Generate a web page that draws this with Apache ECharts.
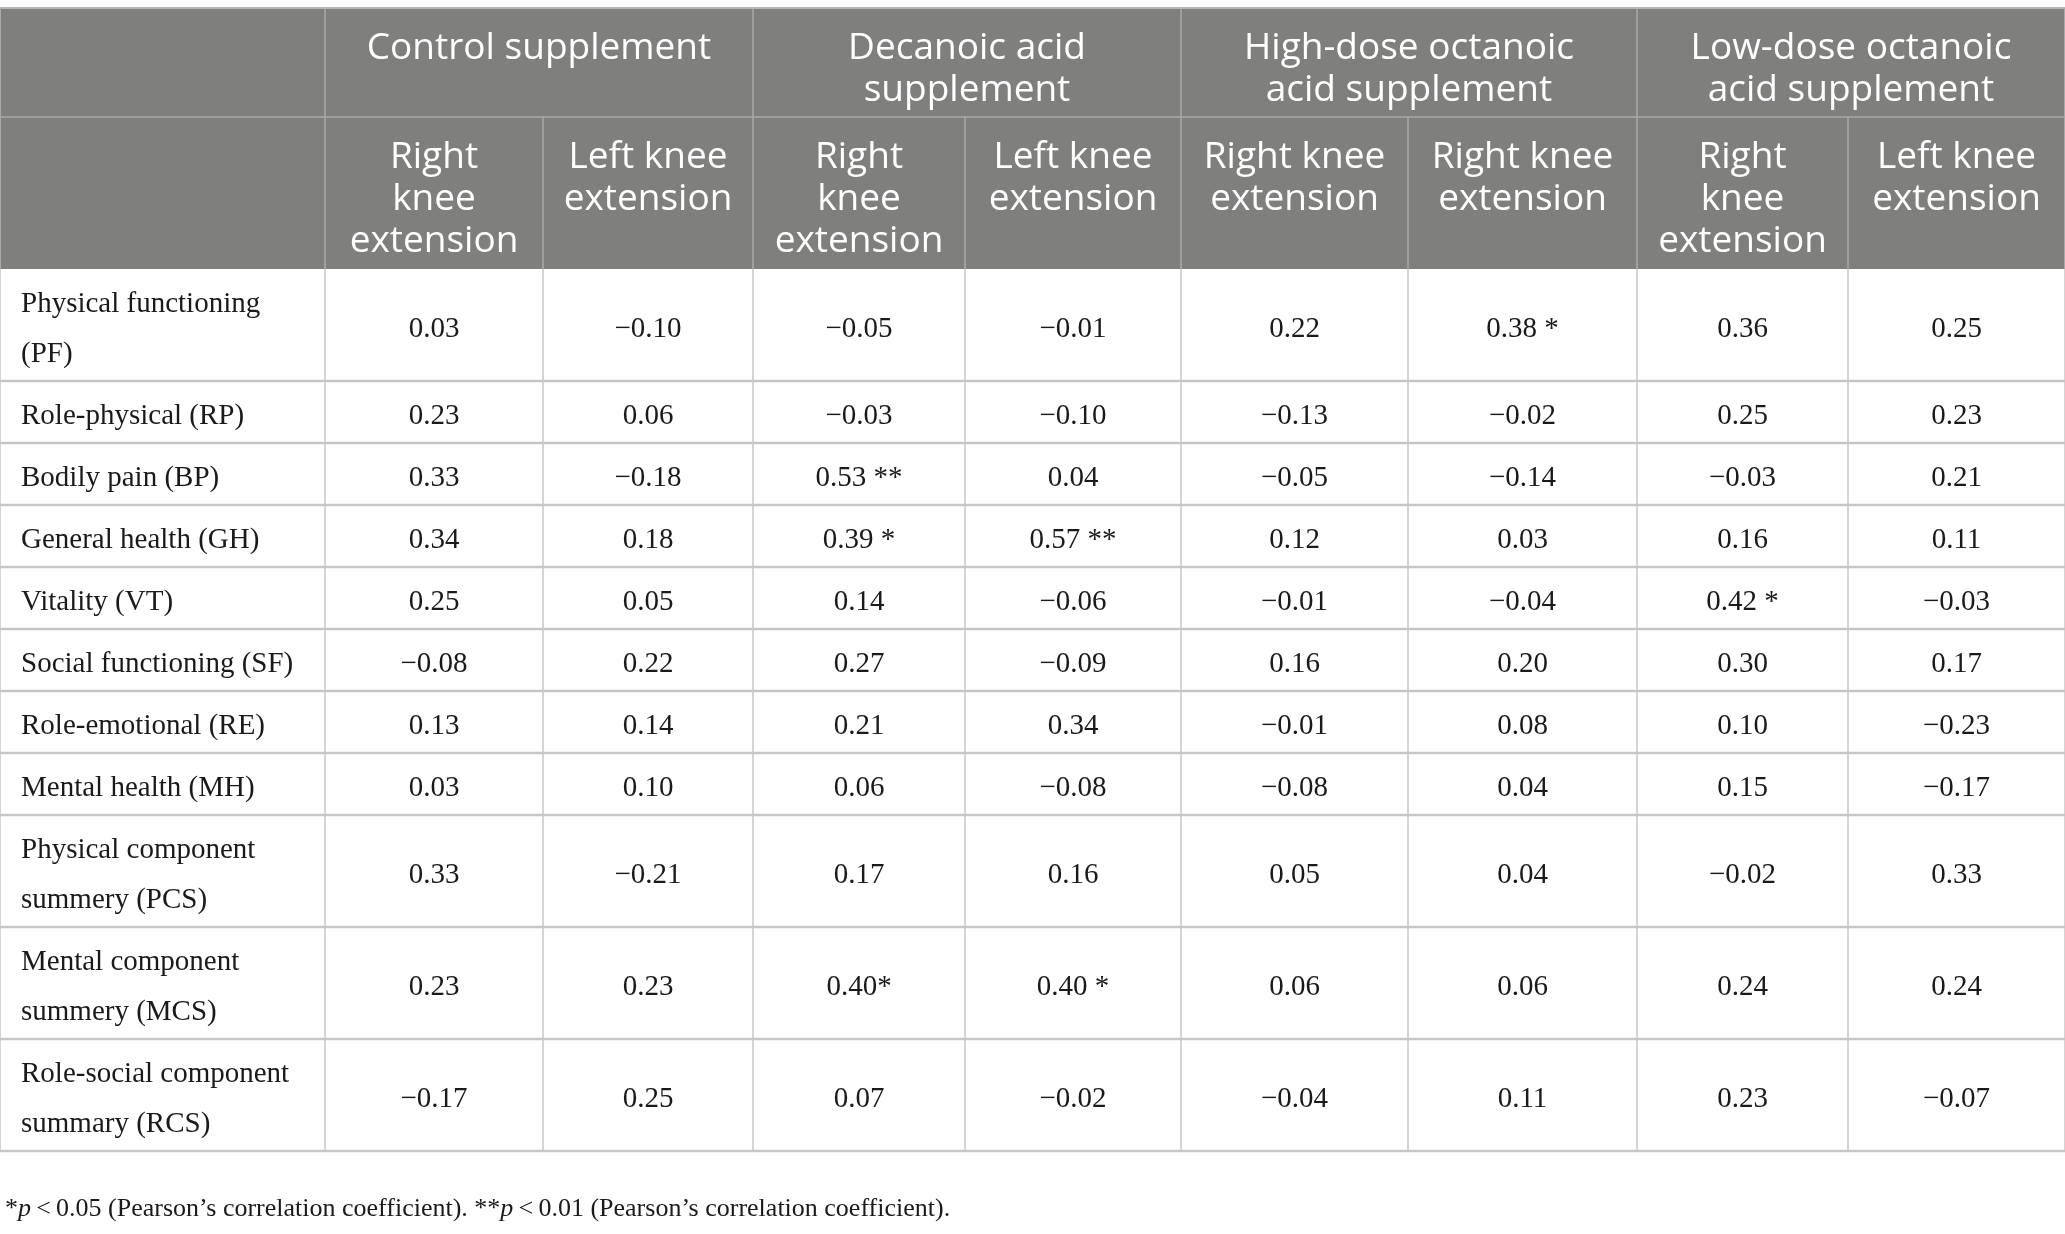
<!DOCTYPE html>
<html>
<head>
<meta charset="utf-8">
<script src="https://cdn.jsdelivr.net/npm/echarts@6/dist/echarts.min.js"></script>
<style>
html, body { margin: 0; padding: 0; background: #fff; }
#main { width: 2065px; height: 1234px; }
</style>
</head>
<body>
<div id="main"></div>
<script>
'use strict';

/** 表头 */
var groups = ['Control supplement', 'Decanoic acid\nsupplement', 'High-dose octanoic\nacid supplement', 'Low-dose octanoic\nacid supplement'];
var subCols = [
    'Right\nknee\nextension', 'Left knee\nextension',
    'Right\nknee\nextension', 'Left knee\nextension',
    'Right knee\nextension', 'Right knee\nextension',
    'Right\nknee\nextension', 'Left knee\nextension'
];
var rowLabels = [
    'Physical functioning\n(PF)', 'Role-physical (RP)', 'Bodily pain (BP)', 'General health (GH)',
    'Vitality (VT)', 'Social functioning (SF)', 'Role-emotional (RE)', 'Mental health (MH)',
    'Physical component\nsummery (PCS)', 'Mental component\nsummery (MCS)', 'Role-social component\nsummary (RCS)'
];

/** 相关系数 */
var valuesPF = [0.03, -0.10, -0.05, -0.01, 0.22, 0.38, 0.36, 0.25];
var valuesRP = [0.23, 0.06, -0.03, -0.10, -0.13, -0.02, 0.25, 0.23];
var valuesBP = [0.33, -0.18, 0.53, 0.04, -0.05, -0.14, -0.03, 0.21];
var valuesGH = [0.34, 0.18, 0.39, 0.57, 0.12, 0.03, 0.16, 0.11];
var valuesVT = [0.25, 0.05, 0.14, -0.06, -0.01, -0.04, 0.42, -0.03];
var valuesSF = [-0.08, 0.22, 0.27, -0.09, 0.16, 0.20, 0.30, 0.17];
var valuesRE = [0.13, 0.14, 0.21, 0.34, -0.01, 0.08, 0.10, -0.23];
var valuesMH = [0.03, 0.10, 0.06, -0.08, -0.08, 0.04, 0.15, -0.17];
var valuesPCS = [0.33, -0.21, 0.17, 0.16, 0.05, 0.04, -0.02, 0.33];
var valuesMCS = [0.23, 0.23, 0.40, 0.40, 0.06, 0.06, 0.24, 0.24];
var valuesRCS = [-0.17, 0.25, 0.07, -0.02, -0.04, 0.11, 0.23, -0.07];
var values = [valuesPF, valuesRP, valuesBP, valuesGH, valuesVT, valuesSF, valuesRE, valuesMH, valuesPCS, valuesMCS, valuesRCS];

/** 显著性标记 [行, 列, 标记] */
var marks = [[0, 5, ' *'], [2, 2, ' **'], [3, 2, ' *'], [3, 3, ' **'], [4, 6, ' *'], [9, 2, '*'], [9, 3, ' *']];

var footnote = '*{i|p}\u2009<\u20090.05 (Pearson\u2019s correlation coefficient). **{i|p}\u2009<\u20090.01 (Pearson\u2019s correlation coefficient).';

/** 布局 */
var colWidths = [325, 218, 210, 212, 216, 227, 229, 211, 217];
var headerHeights = [109, 152];
var lineRowH = 62, twoLineRowH = 112;

var colStart = [0];
colWidths.forEach(function (w, i) { colStart.push(colStart[i] + w); });
var rowStart = [0];
var rowHeights = headerHeights.concat(rowLabels.map(function (l) {
    return l.indexOf('\n') >= 0 ? twoLineRowH : lineRowH;
}));
rowHeights.forEach(function (h, i) { rowStart.push(rowStart[i] + h); });
var totalW = colStart[colStart.length - 1];
var totalH = rowStart[rowStart.length - 1];

function fmt(v) {
    return v.toFixed(2).replace('-', '\u2212');
}

// header cells: [x0, x1, y0, y1]
var headerCells = [], headerTexts = [];
headerCells.push([colStart[0], colStart[1], rowStart[0], rowStart[1]]); headerTexts.push('');
groups.forEach(function (g, i) {
    headerCells.push([colStart[1 + 2 * i], colStart[3 + 2 * i], rowStart[0], rowStart[1]]);
    headerTexts.push(g);
});
headerCells.push([colStart[0], colStart[1], rowStart[1], rowStart[2]]); headerTexts.push('');
subCols.forEach(function (s, i) {
    headerCells.push([colStart[1 + i], colStart[2 + i], rowStart[1], rowStart[2]]);
    headerTexts.push(s);
});

// body cells
var bodyCells = [], bodyTexts = [], bodyAlign = [];
rowLabels.forEach(function (label, r) {
    var y0 = rowStart[r + 2], y1 = rowStart[r + 3];
    bodyCells.push([colStart[0], colStart[1], y0, y1]);
    bodyTexts.push(label); bodyAlign.push('left');
    values[r].forEach(function (v, c) {
        var t = fmt(v);
        marks.forEach(function (m) { if (m[0] === r && m[1] === c) t += m[2]; });
        bodyCells.push([colStart[c + 1], colStart[c + 2], y0, y1]);
        bodyTexts.push(t); bodyAlign.push('center');
    });
});

// grid lines: [x0, y0, x1, y1, width, color]
var lines = [];
var hdrLine = '#a9a9a9', bodyLine = '#c6c6c6';
lines.push([0, rowStart[1], totalW, rowStart[1], 1.5, hdrLine]);
[1, 3, 5, 7].forEach(function (c) { lines.push([colStart[c], rowStart[0], colStart[c], rowStart[2], 1.5, hdrLine]); });
[2, 4, 6, 8].forEach(function (c) { lines.push([colStart[c], rowStart[1], colStart[c], rowStart[2], 1.5, hdrLine]); });
lines.push([0, rowStart[0], totalW, rowStart[0], 2, '#b5b5b5']);
for (var r = 3; r < rowStart.length; r++) {
    lines.push([0, rowStart[r], totalW, rowStart[r], 2.5, bodyLine]);
}
for (var c = 0; c < colStart.length; c++) {
    lines.push([colStart[c], rowStart[2], colStart[c], totalH, 1.5, bodyLine]);
}
lines.push([0, rowStart[0], 0, rowStart[2], 2, hdrLine]);
lines.push([totalW, rowStart[0], totalW, rowStart[2], 2, hdrLine]);

var chart = echarts.init(document.getElementById('main'));

function cellRect(api) {
    var p0 = api.coord([api.value(0), api.value(2)]);
    var p1 = api.coord([api.value(1), api.value(3)]);
    return { x: p0[0], y: p0[1], width: p1[0] - p0[0], height: p1[1] - p0[1] };
}

var option = {
    animation: false,
    backgroundColor: '#ffffff',
    title: {
        text: footnote,
        left: 0,
        top: 1191,
        textStyle: {
            fontFamily: 'Liberation Serif',
            fontSize: 26,
            fontWeight: 'normal',
            color: '#1a1a1a',
            rich: {
                i: { fontFamily: 'Liberation Serif', fontSize: 26, fontStyle: 'italic', color: '#1a1a1a' }
            }
        }
    },
    grid: { left: 0, top: 8, width: totalW, height: totalH },
    xAxis: { type: 'value', min: 0, max: totalW, show: false },
    yAxis: { type: 'value', min: 0, max: totalH, inverse: true, show: false },
    series: [{
        name: 'header',
        type: 'custom',
        clip: false,
        data: headerCells,
        renderItem: function (params, api) {
            var rc = cellRect(api);
            return {
                type: 'group',
                children: [{
                    type: 'rect',
                    shape: rc,
                    style: { fill: '#7f807e' }
                }, {
                    type: 'text',
                    style: {
                        text: headerTexts[params.dataIndex],
                        x: rc.x + rc.width / 2,
                        y: rc.y + 19,
                        align: 'center',
                        verticalAlign: 'top',
                        fill: '#ffffff',
                        fontFamily: 'Open Sans',
                        fontSize: 37,
                        lineHeight: 42
                    }
                }]
            };
        }
    }, {
        name: 'body',
        type: 'custom',
        clip: false,
        data: bodyCells,
        renderItem: function (params, api) {
            var rc = cellRect(api);
            var left = bodyAlign[params.dataIndex] === 'left';
            return {
                type: 'group',
                children: [{
                    type: 'rect',
                    shape: rc,
                    style: { fill: '#ffffff' }
                }, {
                    type: 'text',
                    style: {
                        text: bodyTexts[params.dataIndex],
                        x: left ? rc.x + 21 : rc.x + rc.width / 2,
                        y: rc.y + rc.height / 2 + 4,
                        align: left ? 'left' : 'center',
                        verticalAlign: 'middle',
                        fill: '#1a1a1a',
                        fontFamily: 'Liberation Serif',
                        fontSize: 29,
                        lineHeight: 50
                    }
                }]
            };
        }
    }, {
        name: 'lines',
        type: 'custom',
        clip: false,
        data: lines.map(function (l) { return [l[0], l[1], l[2], l[3]]; }),
        renderItem: function (params, api) {
            var l = lines[params.dataIndex];
            var p0 = api.coord([api.value(0), api.value(1)]);
            var p1 = api.coord([api.value(2), api.value(3)]);
            return {
                type: 'line',
                shape: { x1: p0[0], y1: p0[1], x2: p1[0], y2: p1[1] },
                style: { stroke: l[5], lineWidth: l[4] }
            };
        }
    }]
};
chart.setOption(option);
</script>
</body>
</html>
